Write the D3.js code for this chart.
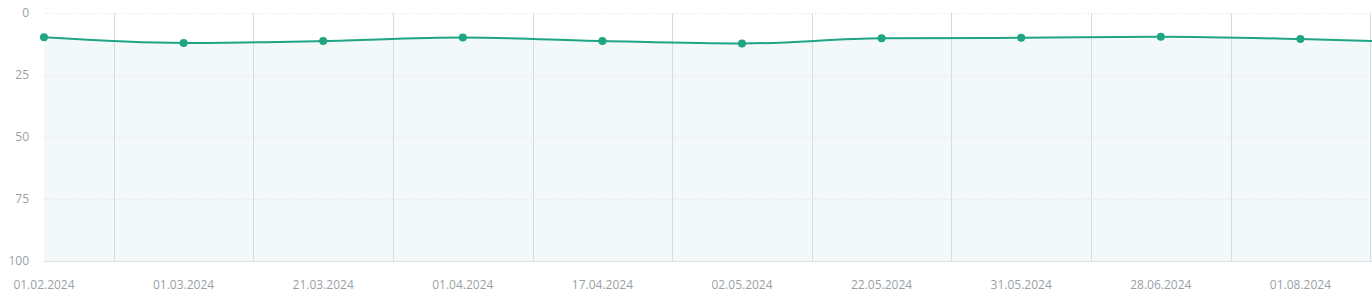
<!DOCTYPE html>
<html>
<head>
<meta charset="utf-8">
<script src="https://cdn.jsdelivr.net/npm/d3@7"></script>
<style>
	html, body { margin: 0; padding: 0; background: #fff; overflow: hidden; }
	svg { display: block; font-family: "Open Sans", sans-serif; }
	.tick-label { fill: #9a9fa6; font-size: 12px; }
</style>
</head>
<body>
<svg id="chart"></svg>
<script>
	var dates = ["01.02.2024", "01.03.2024", "21.03.2024", "01.04.2024", "17.04.2024",
		"02.05.2024", "22.05.2024", "31.05.2024", "28.06.2024", "01.08.2024", "15.08.2024"];
	var positions = [9.8, 12.1, 11.3, 9.9, 11.3, 12.3, 10.2, 10.0, 9.6, 10.5, 12.0];
	var yTicks = [0, 25, 50, 75, 100];

	var width = 1372, height = 302;
	var svg = d3.select("#chart").attr("width", width).attr("height", height);

	var step = 139.6;
	var x = d3.scaleLinear().domain([0, dates.length - 1]).range([44, 44 + step * (dates.length - 1)]);
	var y = d3.scaleLinear().domain([0, 100]).range([13, 261]);

	var data = positions.map(function(v, i) { return { i: i, v: v }; });

	// area under the line
	var area = d3.area()
		.x(function(d) { return x(d.i); })
		.y0(y(100))
		.y1(function(d) { return y(d.v); })
		.curve(d3.curveMonotoneX);

	svg.append("path")
		.datum(data)
		.attr("d", area)
		.style("fill", "#f3f9f9");

	// dotted horizontal grid
	svg.selectAll(".hgrid")
		.data(yTicks.slice(0, -1))
		.enter().append("line")
		.attr("x1", 44).attr("x2", width)
		.attr("y1", function(d) { return y(d) + 0.5; })
		.attr("y2", function(d) { return y(d) + 0.5; })
		.style("stroke", "#dfe3e6")
		.style("stroke-dasharray", "1,2");

	// baseline
	svg.append("line")
		.attr("x1", 44).attr("x2", width)
		.attr("y1", y(100) + 0.5).attr("y2", y(100) + 0.5)
		.style("stroke", "#dce1e4");

	// vertical separators between points
	svg.selectAll(".vgrid")
		.data(d3.range(dates.length - 1))
		.enter().append("line")
		.attr("x1", function(d) { return Math.round(x(d + 0.5)) + 0.5; })
		.attr("x2", function(d) { return Math.round(x(d + 0.5)) + 0.5; })
		.attr("y1", y(0)).attr("y2", y(100))
		.style("stroke", "#d6dcdf");

	// y labels
	svg.selectAll(".ylab")
		.data(yTicks)
		.enter().append("text")
		.attr("class", "tick-label")
		.attr("x", 29)
		.attr("y", function(d) { return y(d) + 4; })
		.attr("text-anchor", "end")
		.text(function(d) { return d; });

	// x labels (only the ones that fit in the window)
	svg.selectAll(".xlab")
		.data(dates.filter(function(d, i) { return x(i) + 40 < width; }))
		.enter().append("text")
		.attr("class", "tick-label")
		.attr("x", function(d, i) { return x(i); })
		.attr("y", 289)
		.attr("text-anchor", "middle")
		.text(function(d) { return d; });

	// line
	var line = d3.line()
		.x(function(d) { return x(d.i); })
		.y(function(d) { return y(d.v); })
		.curve(d3.curveMonotoneX);

	svg.append("path")
		.datum(data)
		.attr("d", line)
		.style("fill", "none")
		.style("stroke", "#1fa583")
		.style("stroke-width", 2);

	svg.selectAll(".dot")
		.data(data)
		.enter().append("circle")
		.attr("cx", function(d) { return x(d.i); })
		.attr("cy", function(d) { return y(d.v); })
		.attr("r", 4)
		.style("fill", "#1fa583");
</script>
</body>
</html>
